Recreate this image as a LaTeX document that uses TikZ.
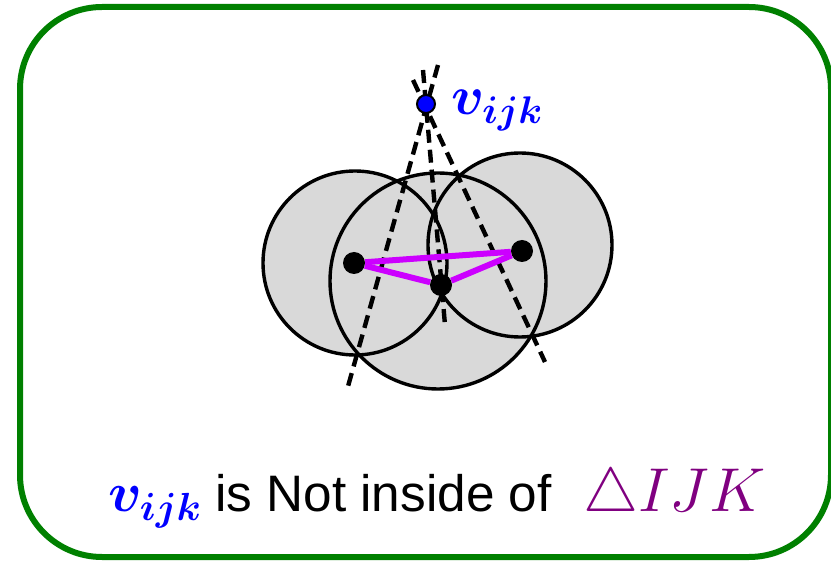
\RequirePackage{fix-cm}
\documentclass[tikz,border=0pt]{standalone}
\usepackage{amsmath}
\usepackage{fontspec}
\newfontfamily\arialf{Liberation Sans}
\definecolor{bordergreen}{RGB}{0,128,0}
\definecolor{edgemag}{RGB}{204,0,255}
\definecolor{tripurple}{RGB}{128,0,128}
\definecolor{diskgray}{RGB}{217,217,217}
\definecolor{vblue}{RGB}{0,0,255}
\tikzset{
  frame/.style={draw=bordergreen, line width=6pt, rounded corners=82pt},
  disk/.style={fill=diskgray},
  ring/.style={draw=black, line width=3.4pt},
  bisector/.style={draw=black, line width=4.4pt, dash pattern=on 13pt off 7pt},
  triedge/.style={draw=edgemag, line width=6pt},
  site/.style={circle, fill=black, minimum size=22pt, inner sep=0pt},
  vdot/.style={circle, fill=vblue, draw=black, line width=2pt, minimum size=18pt, inner sep=0pt},
  lbl/.style={inner sep=0pt, anchor=base west}
}
\begin{document}
\begin{tikzpicture}[x=1pt, y=-1pt]
  \useasboundingbox (0,0) rectangle (831,561);
  \draw[frame] (20,7) rectangle (831,557);

  % circle centres
  \coordinate (cI) at (355,263);
  \coordinate (cJ) at (438,281);
  \coordinate (cK) at (520,245);

  % disks
  \fill[disk] (cI) circle (92);
  \fill[disk] (cJ) circle (108);
  \fill[disk] (cK) circle (92);
  \draw[ring] (cI) circle (92);
  \draw[ring] (cJ) circle (108);
  \draw[ring] (cK) circle (92);

  % dashed lines
  \coordinate (aTop) at (438,65);
  \coordinate (aBot) at (347,390);
  \coordinate (bTop) at (423,70);
  \coordinate (bBot) at (445,325);
  \coordinate (cTop) at (413,80);
  \coordinate (cBot) at (545,362);
  \draw[bisector] (aTop) -- (aBot);
  \draw[bisector] (bTop) -- (bBot);
  \draw[bisector] (cTop) -- (cBot);

  % sites
  \node[site] (I) at (354,263) {};
  \node[site] (J) at (441,285) {};
  \node[site] (K) at (522,251) {};
  \draw[triedge] (I) -- (K);
  \draw[triedge] (I) -- (J);
  \draw[triedge] (J) -- (K);

  % vertex
  \node[vdot] (v) at (426,104) {};
  \node[lbl, text=vblue] (vlab) at (451,115) {\fontsize{55}{64}\selectfont$\boldsymbol{v_{ijk}}$};

  % caption
  \node[lbl, text=vblue] (capv) at (108,512) {\fontsize{56}{64}\selectfont$\boldsymbol{v_{ijk}}$};
  \node[lbl] (capt) at (215,512) {\fontsize{51.3}{60}\selectfont\arialf is Not inside of};
  \node[lbl, text=tripurple] (capk) at (583,512) {\fontsize{62}{70}\selectfont$\triangle IJK$};
\end{tikzpicture}
\end{document}
